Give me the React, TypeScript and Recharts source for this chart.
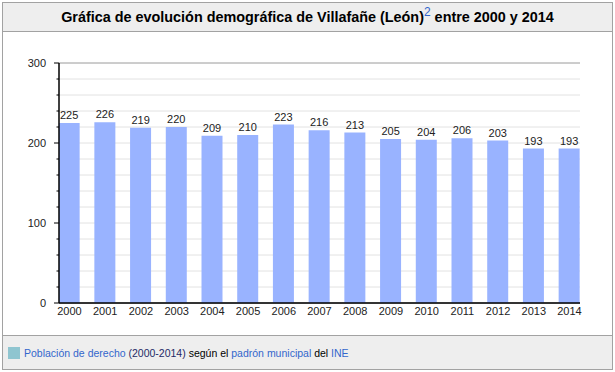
import React from 'react';
import { BarChart, Bar, XAxis, YAxis, CartesianGrid, LabelList } from 'recharts';

const years = [2000, 2001, 2002, 2003, 2004, 2005, 2006, 2007, 2008, 2009, 2010, 2011, 2012, 2013, 2014];
const population = [225, 226, 219, 220, 209, 210, 223, 216, 213, 205, 204, 206, 203, 193, 193];
const minorTicks = [0, 20, 40, 60, 80, 100, 120, 140, 160, 180, 200, 220, 240, 260, 280, 300];
const majorTicks = [0, 100, 200, 300];

const data = years.map((y, i) => ({ year: y, value: population[i] }));

const FONT = '"Liberation Sans", Arial, Helvetica, sans-serif';

const YTick = (props: any) => {
  const { x, y, payload } = props;
  const v = payload.value;
  const major = majorTicks.includes(v);
  return (
    <g>
      <line x1={major ? x - 5 : x - 2.5} x2={x} y1={y} y2={y} stroke="#000" strokeWidth={1} />
      {major && (
        <text x={x - 13} y={y} dy="0.355em" textAnchor="end" fontSize={11} fontFamily={FONT} fill="#222">
          {v}
        </text>
      )}
    </g>
  );
};

export default function App() {
  return (
    <div style={{ position: 'absolute', left: 0, top: 0, width: 615, height: 372, background: '#fff', fontFamily: FONT }}>
      <div
        style={{
          position: 'absolute', left: 2, top: 2, width: 611, height: 368, boxSizing: 'border-box',
          border: '1px solid #a2a2a2', background: '#fff',
        }}
      >
        <div
          style={{
            position: 'absolute', left: 0, top: 0, right: 0, height: 28, background: '#eeeeee',
            borderBottom: '1px solid #a2a2a2', textAlign: 'center', fontWeight: 'bold', fontSize: 14.4,
            lineHeight: '28px', color: '#000', whiteSpace: 'nowrap',
          }}
        >
          Gráfica de evolución demográfica de Villafañe (León)
          <sup style={{ color: '#3366cc', fontWeight: 'normal', fontSize: 12, lineHeight: 0 }}>2</sup> entre 2000 y 2014
        </div>
        <div
          style={{
            position: 'absolute', left: 0, right: 0, top: 332, bottom: 0, background: '#eeeeee',
            borderTop: '1px solid #a2a2a2', fontSize: 10.5, color: '#000',
          }}
        >
          <div style={{ position: 'absolute', left: 5, top: 11, width: 12, height: 12, background: '#8fc5d0' }} />
          <div style={{ position: 'absolute', left: 21, top: 10, whiteSpace: 'nowrap', lineHeight: '14px' }}>
            <span style={{ color: '#3366cc' }}>Población de derecho</span>{' '}
            <span style={{ color: '#1f2a66' }}>(2000-2014)</span> según el{' '}
            <span style={{ color: '#3366cc' }}>padrón municipal</span> del{' '}
            <span style={{ color: '#3366cc' }}>INE</span>
          </div>
        </div>
      </div>
      <div style={{ position: 'absolute', left: 0, top: 0 }}>
        <BarChart width={615} height={335} data={data} margin={{ top: 63, right: 35, left: 19, bottom: 12 }}>
          <CartesianGrid yAxisId="minor" vertical={false} stroke="#e2e2e2" />
          <CartesianGrid yAxisId="major" vertical={false} stroke="#a8a8a8" />
          <XAxis
            dataKey="year"
            type="number"
            domain={[1999.706, 2014.294]}
            allowDataOverflow
            ticks={years}
            interval={0}
            height={20}
            tickSize={0}
            tickMargin={4}
            axisLine={{ stroke: '#000', strokeWidth: 1.5 }}
            tickLine={false}
            tick={{ fontSize: 11, fontFamily: FONT, fill: '#222' }}
          />
          <YAxis
            yAxisId="minor"
            orientation="left"
            width={40}
            domain={[0, 300]}
            ticks={minorTicks}
            interval={0}
            tickSize={0}
            tickMargin={0}
            tickLine={false}
            axisLine={{ stroke: '#000', strokeWidth: 1.5 }}
            tick={<YTick />}
          />
          <YAxis yAxisId="major" orientation="right" hide domain={[0, 300]} ticks={majorTicks} interval={0} />
          <Bar yAxisId="minor" dataKey="value" fill="#99b3ff" barSize={21} isAnimationActive={false}>
            <LabelList dataKey="value" position="top" offset={4} fontSize={11} fontFamily={FONT} fill="#222" />
          </Bar>
        </BarChart>
      </div>
    </div>
  );
}
